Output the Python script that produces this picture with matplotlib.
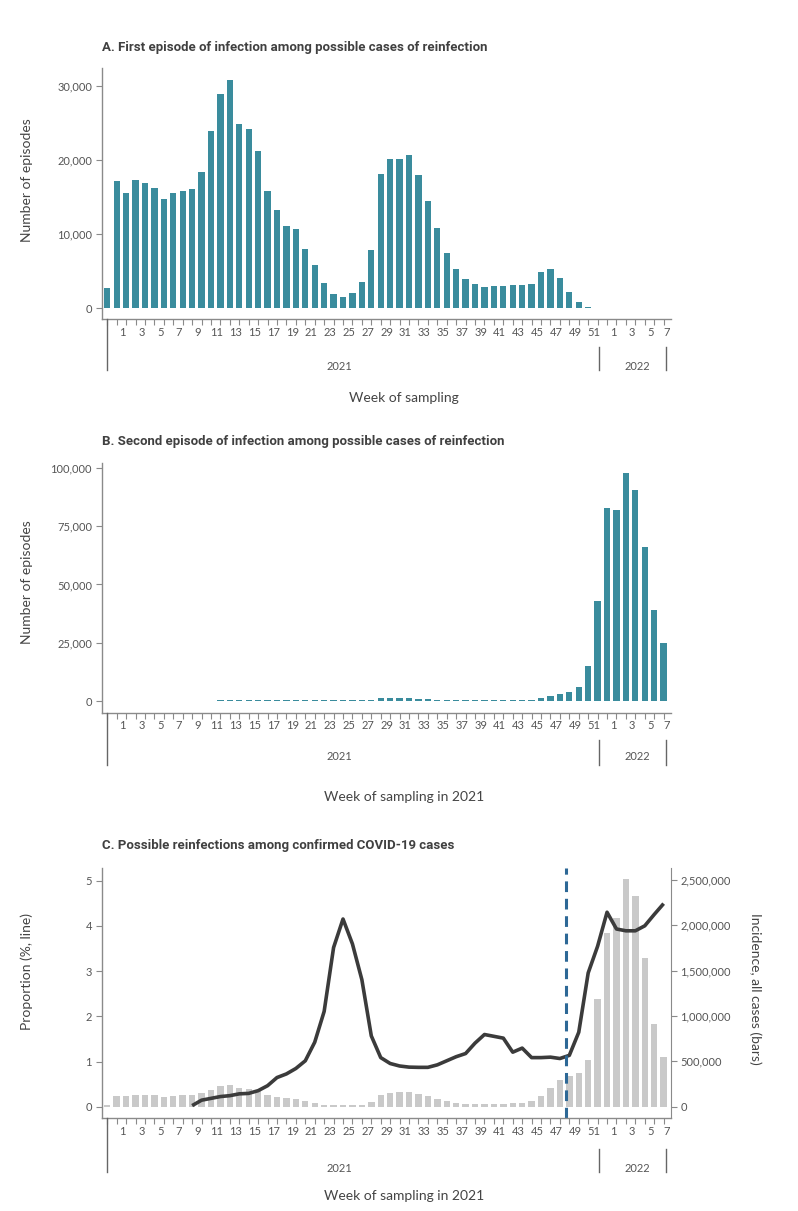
import matplotlib
matplotlib.use('Agg')
import matplotlib.pyplot as plt
import matplotlib.transforms as mtransforms
from matplotlib.lines import Line2D
from matplotlib.ticker import FuncFormatter
from matplotlib import font_manager as fm
import numpy as np

W, H = 798, 1211

# ---------------- data ----------------
week_labels = ['53'] + [str(w) for w in range(1, 53)] + [str(w) for w in range(1, 8)]
year_2021_label = '2021'
year_2022_label = '2022'

first_episode = [2750, 17250, 15540, 17300, 16980, 16260, 14770, 15540, 15860, 16080,
                 18470, 23960, 29000, 30860, 24950, 24230, 21300, 15900, 13290, 11170,
                 10680, 8020, 5860, 3420, 1940, 1530, 2070, 3560, 7930, 18110,
                 20180, 20180, 20680, 17970, 14550, 10810, 7520, 5320, 4010, 3240,
                 2930, 3060, 3020, 3150, 3110, 3330, 4860, 5360, 4140, 2250,
                 810, 150, 0, 0, 0, 0, 0, 0, 0, 0]

second_episode = [0, 0, 0, 0, 0, 0, 0, 0, 0, 120,
                  200, 320, 550, 550, 550, 550, 550, 550, 550, 550,
                  550, 550, 550, 550, 550, 550, 550, 600, 750, 1200,
                  1250, 1250, 1200, 1050, 850, 550, 550, 550, 550, 550,
                  550, 550, 550, 550, 550, 750, 1430, 2290, 3140, 3860,
                  6140, 15290, 42870, 82740, 82020, 97740, 90450, 66020, 39010, 24860]

incidence_all = [15000, 121000, 121000, 132000, 132000, 129000, 110000, 121000, 129000, 129000,
                 147000, 187000, 228000, 243000, 202000, 199000, 187000, 132000, 107000, 92000,
                 88000, 62000, 44000, 22000, 15000, 15000, 15000, 22000, 55000, 125000,
                 147000, 158000, 162000, 140000, 114000, 88000, 62000, 40000, 33000, 26000,
                 26000, 26000, 29000, 37000, 44000, 66000, 121000, 202000, 294000, 338000,
                 368000, 511000, 1188000, 1919000, 2081000, 2507000, 2324000, 1640000, 912000, 548000]

proportion_reinf = [np.nan] * 9 + [0.03, 0.15, 0.19, 0.23, 0.25, 0.29, 0.30, 0.36, 0.47, 0.65,
                                   0.73, 0.85, 1.02, 1.43, 2.11, 3.52, 4.15, 3.60, 2.81, 1.57,
                                   1.09, 0.96, 0.905, 0.88, 0.875, 0.875, 0.93, 1.02, 1.11, 1.18,
                                   1.41, 1.60, 1.56, 1.52, 1.21, 1.30, 1.09, 1.09, 1.10, 1.07,
                                   1.14, 1.65, 2.96, 3.55, 4.30, 3.93, 3.89, 3.89, 4.00, 4.25, 4.49]

omicron_index = 48  # week 48 of 2021

titles = ['A. First episode of infection among possible cases of reinfection',
          'B. Second episode of infection among possible cases of reinfection',
          'C. Possible reinfections among confirmed COVID-19 cases']

# ---------------- fonts / colours ----------------
names = {f.name for f in fm.fontManager.ttflist}
def pick(*c):
    for n in c:
        if n in names:
            return n
    return 'DejaVu Sans'
TITLE_FONT = pick('Liberation Sans Narrow', 'Roboto', 'DejaVu Sans')
TEXT_FONT = pick('Lato', 'Open Sans', 'DejaVu Sans')
plt.rcParams['font.family'] = [TEXT_FONT, 'DejaVu Sans']

TEAL = '#3a8c9d'
GREY_BAR = '#c9c9c9'
AXC = '#8a8a8a'
TXT = '#444444'
TICKC = '#555555'
TICK_FS = 8

fig = plt.figure(figsize=(W / 100, H / 100), dpi=100)

def px_axes(left, top, right, bottom):
    return fig.add_axes([left / W, 1 - bottom / H, (right - left) / W, (bottom - top) / H])

def fy(y):
    return 1 - y / H

x = np.arange(len(week_labels))
LAB_OFF = 0.62

def style_common(ax, right_spine=False):
    for s in ['top', 'right']:
        ax.spines[s].set_visible(False)
    if right_spine:
        ax.spines['right'].set_visible(True)
    for s in ax.spines.values():
        s.set_color(AXC)
        s.set_linewidth(1.0)
    ax.set_xlim(-0.59, 59.75)
    ax.set_xticks(x, minor=True)
    ax.tick_params(axis='x', which='minor', length=4, width=0.8, color=AXC, direction='out')
    lab_idx = [i for i in range(len(week_labels)) if (1 <= i <= 52 and i % 2 == 1) or (i > 52 and (i - 52) % 2 == 1)]
    pos = [min(i + LAB_OFF, 59.3) for i in lab_idx]
    ax.set_xticks(pos)
    ax.set_xticklabels([week_labels[i] for i in lab_idx])
    ax.tick_params(axis='x', which='major', length=0, pad=5.5, labelsize=TICK_FS, labelcolor=TICKC)
    ax.tick_params(axis='y', length=4, width=0.8, color=AXC, labelsize=TICK_FS, labelcolor=TICKC, pad=3)

def year_marks(ax, spine_y, year_text_y, line22_top, line_bottom, xlabel, xlabel_y):
    tr = mtransforms.blended_transform_factory(ax.transData, fig.transFigure)
    for xx, y0 in [(0, spine_y), (52.1, line22_top), (59.3, line22_top)]:
        fig.add_artist(Line2D([xx, xx], [fy(y0), fy(line_bottom)], transform=tr, color='#666666', lw=1.0))
    fig.text(24.6, fy(year_text_y), year_2021_label, transform=tr, ha='center', va='center', fontsize=TICK_FS, color=TICKC)
    fig.text(56.2, fy(year_text_y), year_2022_label, transform=tr, ha='center', va='center', fontsize=TICK_FS, color=TICKC)
    fig.text(404 / W, fy(xlabel_y), xlabel, ha='center', va='center', fontsize=10, color=TXT)

comma = FuncFormatter(lambda v, p: f'{int(v):,}')

def title(t, y):
    fig.text(102 / W, fy(y), t, ha='left', va='center', fontsize=9.5, fontweight='bold',
             color='#404040', family=[TITLE_FONT, 'DejaVu Sans'])

# ---------------- Panel A ----------------
axA = px_axes(101.7, 68.3, 670.7, 319.3)
axA.bar(x, first_episode, width=0.67, color=TEAL, linewidth=0)
style_common(axA)
axA.set_ylim(-1486, 32432)
axA.set_yticks([0, 10000, 20000, 30000])
axA.yaxis.set_major_formatter(comma)
fig.text(27 / W, fy(180), 'Number of episodes', rotation=90, ha='center', va='center', fontsize=10, color=TXT)
year_marks(axA, 319.3, 366.7, 347, 370, 'Week of sampling', 398)
title(titles[0], 47)

# ---------------- Panel B ----------------
axB = px_axes(101.7, 462.7, 670.7, 712.7)
axB.bar(x, second_episode, width=0.67, color=TEAL, linewidth=0)
style_common(axB)
axB.set_ylim(-4880, 102140)
axB.set_yticks([0, 25000, 50000, 75000, 100000])
axB.yaxis.set_major_formatter(comma)
fig.text(27 / W, fy(582), 'Number of episodes', rotation=90, ha='center', va='center', fontsize=10, color=TXT)
year_marks(axB, 712.7, 757, 740, 765, 'Week of sampling in 2021', 797)
title(titles[1], 441)

# ---------------- Panel C ----------------
axC = px_axes(101.7, 868.3, 670.7, 1118.3)
axC2 = axC.twinx()
axC2.bar(x, incidence_all, width=0.68, color=GREY_BAR, linewidth=0)
axC2.set_ylim(-128000, 2628000)
axC2.set_yticks([0, 500000, 1000000, 1500000, 2000000, 2500000])
axC2.yaxis.set_major_formatter(comma)
for s in ['top', 'left', 'bottom']:
    axC2.spines[s].set_visible(False)
axC2.spines['right'].set_color(AXC)
axC2.tick_params(axis='y', length=4, width=0.8, color=AXC, labelsize=TICK_FS, labelcolor=TICKC, pad=3)

axC.set_zorder(axC2.get_zorder() + 1)
axC.patch.set_visible(False)
axC.plot(x, proportion_reinf, color='#3b3b3b', lw=2.6, solid_joinstyle='round', solid_capstyle='butt')
axC.axvline(omicron_index + LAB_OFF, color='#2d6896', lw=2.2, dashes=(3.5, 2.2))
style_common(axC)
axC.spines['right'].set_visible(False)
axC.set_ylim(-0.25, 5.27)
axC.set_yticks([0, 1, 2, 3, 4, 5])
axC2.set_xlim(axC.get_xlim())
fig.text(27 / W, fy(971), 'Proportion (%, line)', rotation=90, ha='center', va='center', fontsize=10, color=TXT)
fig.text(755 / W, fy(989), 'Incidence, all cases (bars)', rotation=270, ha='center', va='center', fontsize=10, color=TXT)
year_marks(axC, 1118.3, 1169, 1149, 1172, 'Week of sampling in 2021', 1196)
title(titles[2], 845)

fig.savefig('out.png', dpi=100)
